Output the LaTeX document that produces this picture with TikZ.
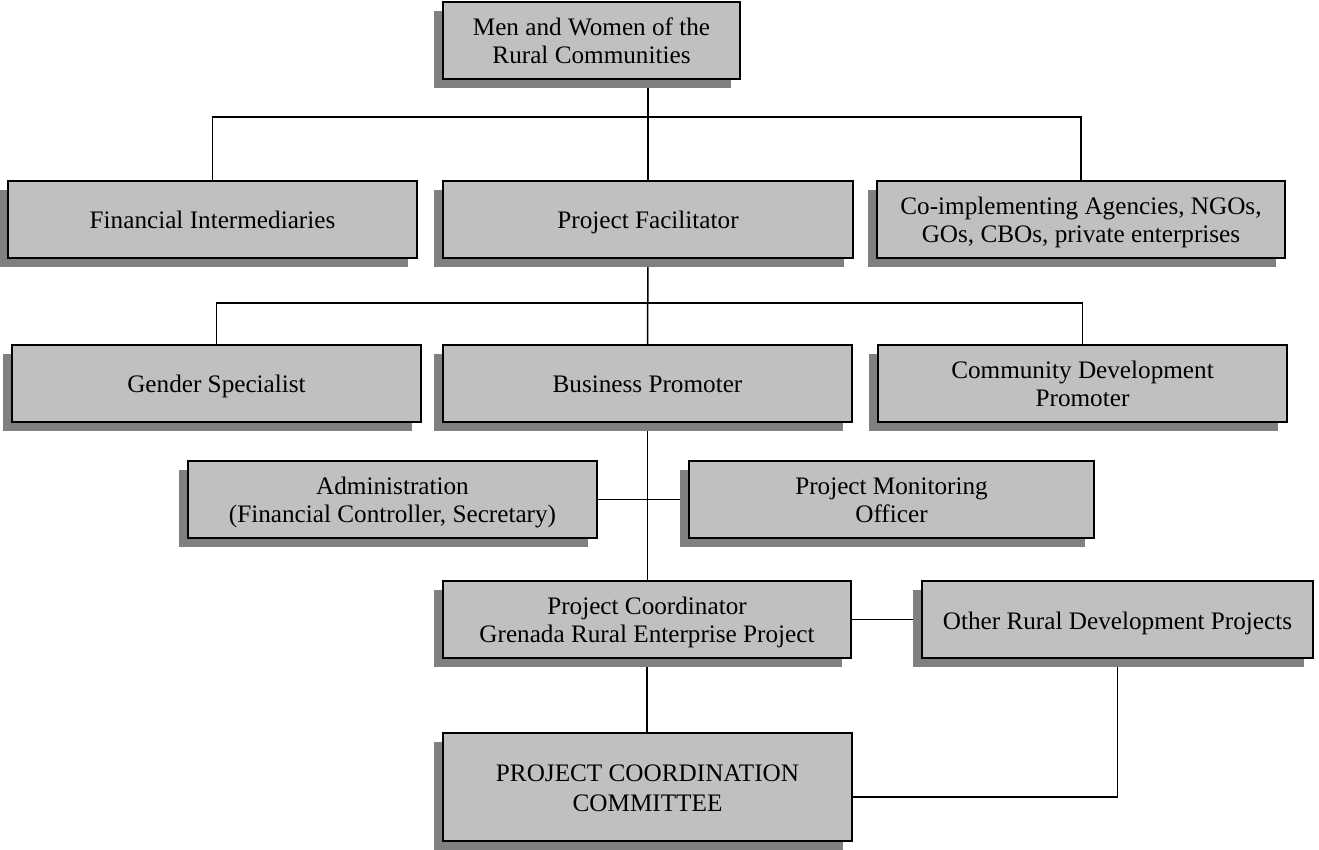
\documentclass[tikz,border=0pt]{standalone}
\usepackage{fontspec}
\setmainfont{Liberation Serif}
\usetikzlibrary{shadows,calc}
\definecolor{boxfill}{RGB}{192,192,192}
\definecolor{shadowgray}{RGB}{128,128,128}
\newcommand{\boxstrut}{\rule[-3pt]{0pt}{15.5pt}}
\newcommand{\firstln}{\rule{0pt}{12.2pt}}
\newcommand{\lastln}{\rule[-3pt]{0pt}{3pt}}
\pgfdeclarelayer{bg}
\pgfsetlayers{bg,main}
\begin{document}
\begin{tikzpicture}[x=0.5pt,y=-0.5pt,
  orgbox/.style={draw=black, line width=0.9pt, fill=boxfill, align=center, inner sep=0pt,
    minimum height=38.5pt,
    font=\fontsize{12.6}{14.2}\selectfont,
    execute at begin node=\boxstrut, execute at end node=\boxstrut,
    general shadow={shadow xshift=-4.5pt, shadow yshift=-4.5pt, fill=shadowgray, draw=none}},
  conn/.style={draw=black, line width=0.75pt}]
\useasboundingbox (0,0) rectangle (1319,850);

\node[orgbox, minimum width=148.5pt] (mw) at (591.5,40.5) {\firstln Men and Women of the\\Rural Communities\lastln};

\node[orgbox, minimum width=204.5pt] (fi) at (212.5,219.5) {Financial Intermediaries};
\node[orgbox, minimum width=205pt] (pf) at (648,219.5) {Project Facilitator};
\node[orgbox, minimum width=204pt] (cia) at (1081,219.5) {\firstln Co-implementing Agencies, NGOs,\\GOs, CBOs, private enterprises\lastln};

\node[orgbox, minimum width=204.5pt] (gs) at (216.5,383.5) {Gender Specialist};
\node[orgbox, minimum width=204.5pt] (bp) at (647.5,383.5) {Business Promoter};
\node[orgbox, minimum width=204.5pt] (cdp) at (1082.5,383.5) {\firstln Community Development\\Promoter\lastln};

\node[orgbox, minimum width=204.5pt] (adm) at (392.5,499.5) {\firstln Administration\\(Financial Controller, Secretary)\lastln};
\node[orgbox, minimum width=202.5pt] (pmo) at (891.5,499.5) {\firstln Project Monitoring\\Officer\lastln};

\node[orgbox, minimum width=204pt] (pc) at (647,619.5) {\firstln Project Coordinator\\Grenada Rural Enterprise Project\lastln};
\node[orgbox, minimum width=195.5pt] (ordp) at (1117.5,619.5) {Other Rural Development Projects};

\node[orgbox, minimum width=204.5pt, minimum height=54pt, font=\fontsize{12.6}{15}\selectfont] (pcc) at (647.5,787) {\firstln PROJECT COORDINATION\\COMMITTEE\lastln};

\coordinate (bus1) at (647,117);
\coordinate (bus2) at (647,303);

\begin{pgfonlayer}{bg}
\draw[conn] (pf.north |- mw.south) -- (pf.north);
\draw[conn] (fi.north) |- (bus1) -| (cia.north);
\draw[conn] (pf.south) -- (bp.north);
\draw[conn] (gs.north) |- (bus2) -| (cdp.north);
\draw[conn] (bp.south) -- (bp.south |- pc.north);
\draw[conn] (adm.east) -- (pmo.west);
\draw[conn] (pc.east) -- (ordp.west);
\draw[conn] (pc.south) -- (pc.south |- pcc.north);
\draw[conn] (ordp.south) |- ([yshift=-5pt]pcc.east);
\end{pgfonlayer}
\end{tikzpicture}
\end{document}
